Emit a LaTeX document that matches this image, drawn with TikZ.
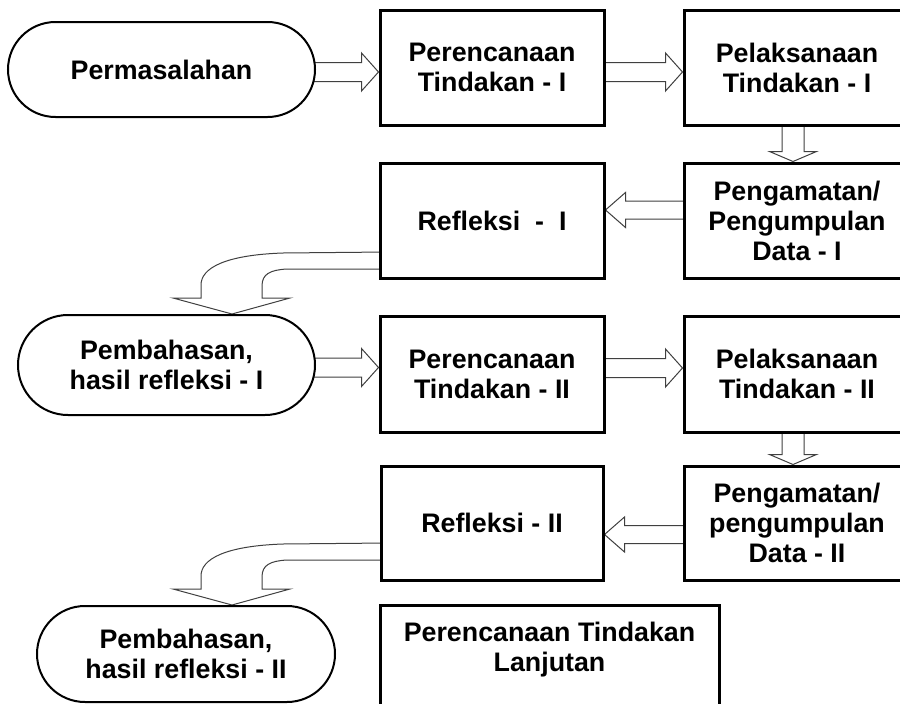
\documentclass[tikz,border=0pt]{standalone}
\usepackage{fontspec}
\setmainfont{Liberation Sans}
\usetikzlibrary{calc,backgrounds}
\newcommand\txtfont{\bfseries\fontsize{26.8}{30}\selectfont}
\tikzset{
  box/.style={draw=black, line width=3pt, fill=white, inner sep=0pt, align=center, font=\txtfont},
  term/.style={draw=black, line width=2pt, fill=white, inner sep=0pt, align=center, font=\txtfont},
  txtn/.style={inner sep=0pt, align=center, font=\txtfont},
  blockarrow/.style={draw=black!75, line width=1pt, fill=white, line join=miter},
}
% right block arrow: src, dst, y offset of tip from dst centre
\newcommand\rarrow[3]{%
  \coordinate (T) at ($(#2.west)+(0,#3)$);
  \coordinate (S) at (#1.center |- T);
  \draw[blockarrow] ($(S)+(0,-9.5)$) -- ($(T)+(-17,-9.5)$) -- ($(T)+(-17,-19)$) -- (T)
     -- ($(T)+(-17,19)$) -- ($(T)+(-17,9.5)$) -- ($(S)+(0,9.5)$) -- cycle;
}
% left block arrow
\newcommand\larrow[3]{%
  \coordinate (T) at ($(#2.east)+(0,#3)$);
  \coordinate (S) at (#1.center |- T);
  \draw[blockarrow] ($(S)+(0,-9)$) -- ($(T)+(20,-9)$) -- ($(T)+(20,-17.5)$) -- (T)
     -- ($(T)+(20,17.5)$) -- ($(T)+(20,9)$) -- ($(S)+(0,9)$) -- cycle;
}
% down block arrow: src, dst, x offset of tip from dst north
\newcommand\darrow[3]{%
  \coordinate (T) at ($(#2.north)+(#3,0)$);
  \coordinate (S) at (T |- #1.center);
  \draw[blockarrow] ($(S)+(-11,0)$) -- ($(T)+(-11,-10)$) -- ($(T)+(-23.5,-10)$) -- (T)
     -- ($(T)+(23.5,-10)$) -- ($(T)+(11,-10)$) -- ($(S)+(11,0)$) -- cycle;
}
% curved block arrow: src, dst, x offset of tip from dst north
\newcommand\carrow[3]{%
  \coordinate (T) at ($(#2.north)+(#3,0)$);
  \coordinate (Ao) at ($(T)+(0,-63)$);
  \coordinate (Ai) at ($(T)+(0,-45)$);
  \coordinate (So) at (#1.center |- Ao);
  \coordinate (Si) at (#1.center |- Ai);
  \draw[blockarrow] (So) -- ($(T)+(51,-61)$)
     .. controls ($(T)+(-7,-59)$) and ($(T)+(-31,-46)$) .. ($(T)+(-31,-29)$)
     -- ($(T)+(-31,-16)$) -- ($(T)+(-59,-16)$) -- (T) -- ($(T)+(58,-16)$) -- ($(T)+(30,-16)$)
     -- ($(T)+(30,-28)$) .. controls ($(T)+(30,-40)$) and ($(T)+(38,-44)$) .. ($(T)+(55,-45)$)
     -- (Si) -- cycle;
}
\begin{document}
\begin{tikzpicture}[x=1pt,y=-1pt]
\useasboundingbox (0,0) rectangle (900,704);
\clip (0,0) rectangle (900,704);
% row 1
\node[term, minimum width=307pt, minimum height=95pt, rounded corners=47.5pt] (perm) at (161.5,69.5) {Permasalahan};
\node[box, minimum width=224pt, minimum height=115pt] (pti) at (492,67.5) {Perencanaan\\Tindakan - I};
\node[box, minimum width=226pt, minimum height=115pt] (pli) at (797,67.5) {Pelaksanaan\\Tindakan - I};
% row 2
\node[box, minimum width=224pt, minimum height=115pt] (rfi) at (492,220.5) {Refleksi~ -~ I};
\node[box, minimum width=226pt, minimum height=115pt] (pgi) at (797,220.5) {Pengamatan/\\Pengumpulan\\Data - I};
% row 3
\node[term, minimum width=297pt, minimum height=100pt, rounded corners=50pt] (pbi) at (166.5,365) {Pembahasan,\\hasil refleksi - I};
\node[box, minimum width=224pt, minimum height=116pt] (ptii) at (492,374) {Perencanaan\\Tindakan - II};
\node[box, minimum width=226pt, minimum height=116pt] (plii) at (797,374) {Pelaksanaan\\Tindakan - II};
% row 4
\node[box, minimum width=222pt, minimum height=114pt] (rfii) at (492,523) {Refleksi - II};
\node[box, minimum width=226pt, minimum height=114pt] (pgii) at (797,523) {Pengamatan/\\pengumpulan\\Data - II};
% row 5
\node[term, minimum width=298pt, minimum height=96pt, rounded corners=48pt] (pbii) at (186,654) {Pembahasan,\\hasil refleksi - II};
\node[box, minimum width=339pt, minimum height=102pt] (lanj) at (549.5,656) {};
\node[txtn] (lanjt) at (549.5,650) {Perencanaan Tindakan\\Lanjutan};
% arrows
\begin{scope}[on background layer]
\rarrow{perm}{pti}{4.5}
\rarrow{pti}{pli}{4.5}
\darrow{pli}{pgi}{-4}
\larrow{pgi}{rfi}{-10.5}
\carrow{rfi}{pbi}{65.5}
\rarrow{pbi}{ptii}{-6.5}
\rarrow{ptii}{plii}{-6}
\darrow{plii}{pgii}{-4}
\larrow{pgii}{rfii}{11.5}
\carrow{rfii}{pbii}{46}
\end{scope}
\end{tikzpicture}
\end{document}
